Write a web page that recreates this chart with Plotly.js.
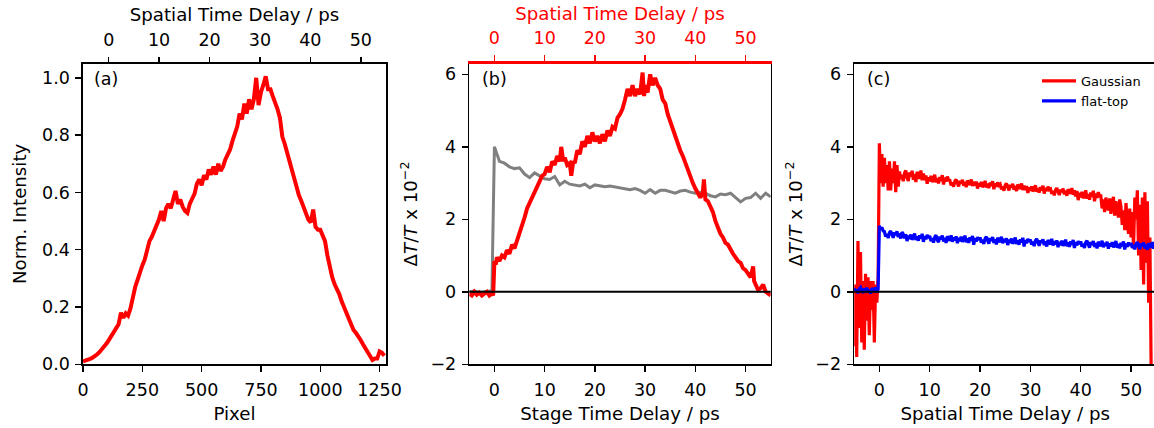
<!DOCTYPE html>
<html>
<head>
<meta charset="utf-8">
<script src="https://cdn.plot.ly/plotly-3.0.1.min.js"></script>
<style>
html,body{margin:0;padding:0;overflow:hidden;background:#fff;}
#chart{width:1160px;height:428px;}
</style>
</head>
<body>
<div id="chart"></div>
<script>
// ---------- Panel (a): beam profile ----------
const pixelA = [0,10,20,30,40,50,60,70,80,90,100,110,120,130,140,150,160,170,180,190,200,210,220,230,240,250,260,270,280,290,300,310,320,330,340,350,360,370,380,390,400,410,420,430,440,450,460,470,480,490,500,510,520,530,540,550,560,570,580,590,600,610,620,630,640,650,660,670,680,690,700,710,720,730,740,750,760,770,780,790,800,810,820,830,840,850,860,870,880,890,900,910,920,930,940,950,960,970,980,990,1000,1010,1020,1030,1040,1050,1060,1070,1080,1090,1100,1110,1120,1130,1140,1150,1160,1170,1180,1190,1200,1210,1220,1230,1240,1250,1260,1270];
const intensityA = [0.010,0.012,0.015,0.019,0.023,0.028,0.035,0.043,0.052,0.062,0.073,0.086,0.098,0.110,0.125,0.140,0.180,0.162,0.178,0.170,0.195,0.235,0.270,0.295,0.325,0.345,0.365,0.400,0.430,0.445,0.465,0.480,0.505,0.535,0.500,0.545,0.560,0.545,0.575,0.605,0.560,0.575,0.550,0.535,0.528,0.560,0.578,0.595,0.630,0.645,0.625,0.660,0.645,0.680,0.662,0.690,0.662,0.700,0.675,0.690,0.715,0.735,0.750,0.780,0.805,0.830,0.875,0.855,0.910,0.875,0.925,0.890,0.925,1.000,0.905,0.950,0.975,1.005,0.960,0.960,0.935,0.915,0.890,0.860,0.795,0.770,0.745,0.710,0.680,0.645,0.610,0.590,0.570,0.545,0.530,0.505,0.495,0.540,0.480,0.470,0.470,0.445,0.430,0.380,0.340,0.305,0.280,0.265,0.245,0.220,0.200,0.185,0.165,0.140,0.120,0.110,0.100,0.085,0.070,0.055,0.040,0.025,0.015,0.020,0.020,0.045,0.040,0.030];
const pixelTicks = [0,250,500,750,1000,1250];
const spatialTicks = [0,10,20,30,40,50];

// ---------- Panel (b): stage-delay scans ----------
const stageTimeRed = [-5,-4.5,-4,-3.5,-3,-2.5,-2,-1.5,-1,-0.5,-0.25,0,0.25,0.5,1,1.5,2,2.5,3,3.5,4,4.5,5,5.5,6,6.5,7,7.5,8,8.5,9,9.5,10,10.5,11,11.5,12,12.5,13,13.3,13.7,14,14.5,15,15.3,15.7,16,16.5,17,17.5,18,18.5,19,19.5,20,20.5,21,21.5,22,22.5,23,23.5,24,24.5,25,25.5,26,26.5,27,27.5,28,28.5,29,29.5,29.8,30,30.5,31,31.5,32,32.5,33,33.5,34,34.5,35,35.5,36,36.5,37,37.5,38,38.5,39,39.5,40,40.5,41,41.5,41.7,42,42.5,43,43.5,44,44.5,45,45.5,46,46.5,47,47.5,48,48.5,49,49.5,50,50.5,51,51.5,51.7,52,52.5,53,53.5,54,54.5,55];
const dTRed = [-0.05,-0.1,0.0,-0.08,-0.02,-0.1,-0.05,0.0,-0.1,-0.04,-0.1,0.85,0.75,0.95,0.85,1.0,0.95,1.15,1.05,1.3,1.2,1.4,1.6,1.85,2.05,2.3,2.45,2.65,2.75,2.95,3.05,3.2,3.25,3.45,3.3,3.6,3.5,3.75,3.6,4.0,3.6,3.7,3.5,3.55,3.2,3.6,3.55,3.9,3.8,4.15,4.0,4.3,4.1,4.4,4.15,4.3,4.1,4.35,4.15,4.45,4.3,4.55,4.5,4.8,4.9,5.05,5.3,5.6,5.4,5.7,5.4,5.6,5.45,6.05,5.4,5.7,5.5,6.0,5.7,5.9,5.7,5.6,5.3,5.2,4.9,4.7,4.45,4.3,4.1,3.9,3.75,3.55,3.35,3.2,3.0,2.85,2.7,2.6,2.75,3.1,2.55,2.5,2.35,2.2,1.95,1.75,1.6,1.5,1.35,1.3,1.15,1.05,0.95,0.85,0.8,0.65,0.6,0.5,0.4,0.7,0.3,0.2,0.05,0.1,0.2,0.0,-0.05,-0.1];
const stageTimeGray = [-5,-4,-3,-2,-1,-0.5,0,1,2,3,4,5,6,7,8,9,10,11,12,13,14,15,16,17,18,19,20,21,22,23,24,25,26,27,28,29,30,31,32,33,34,35,36,37,38,39,40,41,42,43,44,45,46,47,48,49,50,51,52,53,54,55];
const dTGray = [0.0,0.02,-0.02,0.0,0.02,0.0,4.0,3.6,3.55,3.45,3.4,3.42,3.25,3.15,3.28,3.2,3.12,3.1,3.18,2.95,3.05,2.97,2.95,2.92,2.97,2.87,2.95,2.93,2.9,2.92,2.9,2.88,2.86,2.82,2.85,2.8,2.72,2.82,2.72,2.8,2.8,2.75,2.72,2.78,2.8,2.75,2.72,2.75,2.72,2.65,2.62,2.7,2.68,2.72,2.6,2.48,2.58,2.6,2.72,2.58,2.72,2.62];
const dTTicks = [-2,0,2,4,6];

// ---------- Panel (c): spatial-delay traces (0.25 ps sampling, from -5 ps) ----------
const tStartC = -5, tStepC = 0.25;
const dTGauss = [
 -1.5,0.2,-1.8,1.4,-1.0,1.1,-1.4,0.3,-1.6,0.5,-0.8,0.4,-1.2,0.3,-0.5,0.3,-1.4,0.2,-0.3,0.4,
 4.1,3.0,3.8,2.9,3.7,3.0,3.5,2.8,3.6,2.8,3.4,3.0,3.6,2.75,3.5,2.9,
 3.32,3.11,3.23,3.05,3.28,3.35,3.15,3.06,3.29,3.18,3.34,3.09,3.25,3.03,3.31,3.22,3.12,3.35,3.08,3.26,
 3.08,3.21,2.98,3.16,3.05,3.20,3.03,3.10,3.23,3.02,3.14,2.99,3.17,3.06,3.22,2.96,3.15,3.04,3.18,3.09,
 3.08,2.94,3.02,2.90,3.05,3.10,2.97,2.91,3.06,2.99,3.09,2.93,3.03,2.89,3.07,3.01,2.95,3.10,2.92,3.04,
 2.93,3.04,2.85,3.00,2.91,3.03,2.89,2.95,3.06,2.88,2.98,2.86,3.01,2.92,3.05,2.83,2.99,2.90,3.02,2.94,
 2.97,2.83,2.91,2.79,2.94,2.99,2.86,2.80,2.95,2.88,2.98,2.82,2.92,2.78,2.96,2.90,2.84,2.99,2.81,2.93,
 2.81,2.92,2.73,2.88,2.79,2.91,2.77,2.83,2.94,2.76,2.86,2.74,2.89,2.80,2.93,2.71,2.87,2.78,2.90,2.82,
 2.84,2.70,2.78,2.66,2.81,2.86,2.73,2.67,2.82,2.75,2.85,2.69,2.79,2.65,2.83,2.77,2.71,2.86,2.68,2.80,
 2.63,2.78,2.53,2.73,2.61,2.76,2.58,2.66,2.80,2.57,2.70,2.54,2.74,2.62,2.79,2.50,2.71,2.59,2.75,2.65,
 2.65,2.30,2.55,2.20,2.60,2.35,2.25,2.58,2.15,2.45,2.62,2.10,2.50,2.28,2.05,2.55,
 2.35,1.85,2.25,1.70,2.45,1.90,1.60,2.30,1.50,2.20,1.20,2.60,2.00,2.80,1.00,2.40,0.60,2.60,0.20,2.75,0.80,2.50,-0.30,1.50,-2.20];
const dTFlat = [
 0.10,0.00,0.06,-0.04,0.08,0.12,0.02,-0.03,0.09,0.04,0.11,-0.01,0.06,-0.05,0.10,0.05,0.01,0.12,-0.02,0.07,
 1.82,1.72,1.78,1.68,
 1.66,1.52,1.60,1.48,1.63,1.68,1.55,1.49,1.64,1.57,1.67,1.51,1.61,1.47,1.65,1.59,
 1.48,1.59,1.40,1.55,1.46,1.58,1.44,1.50,1.61,1.43,1.53,1.41,1.56,1.47,1.60,1.38,1.54,1.45,1.57,1.49,
 1.54,1.40,1.48,1.36,1.51,1.56,1.43,1.37,1.52,1.45,1.55,1.39,1.49,1.35,1.53,1.47,1.41,1.56,1.38,1.50,
 1.42,1.53,1.34,1.49,1.40,1.52,1.38,1.44,1.55,1.37,1.47,1.35,1.50,1.41,1.54,1.30,1.48,1.39,1.51,1.43,
 1.50,1.36,1.44,1.32,1.47,1.52,1.39,1.33,1.48,1.41,1.51,1.35,1.45,1.31,1.49,1.43,1.37,1.52,1.34,1.46,
 1.37,1.48,1.29,1.44,1.35,1.47,1.33,1.39,1.50,1.32,1.42,1.30,1.45,1.36,1.49,1.25,1.43,1.34,1.46,1.38,
 1.44,1.30,1.38,1.26,1.41,1.46,1.33,1.27,1.42,1.35,1.45,1.29,1.39,1.25,1.43,1.37,1.31,1.46,1.28,1.40,
 1.31,1.42,1.23,1.38,1.29,1.41,1.27,1.33,1.44,1.26,1.36,1.24,1.39,1.30,1.43,1.21,1.37,1.28,1.40,1.32,
 1.39,1.25,1.33,1.21,1.36,1.41,1.28,1.22,1.37,1.30,1.40,1.24,1.34,1.20,1.38,1.32,1.26,1.41,1.23,1.35,
 1.27,1.38,1.19,1.34,1.25,1.37,1.23,1.29,1.40,1.22,1.32,1.20,1.35,1.26,1.39,1.17,1.33,1.24,1.36,1.28,
 1.35,1.21,1.29,1.17,1.32,1.37,1.24,1.18,1.33,1.26,1.36,1.20,1.30,1.16,1.34,1.28,1.22,1.37,1.19,1.31,1.27];
const spatialTimeGauss = dTGauss.map((_, i) => tStartC + i * tStepC);
const spatialTimeFlat = dTFlat.map((_, i) => tStartC + i * tStepC);
const seriesNames = ['Gaussian','flat-top'];

// ---------- styling ----------
const FONT = 'DejaVu Sans, sans-serif';
const TICKF = {family: FONT, size: 17.5, color: '#000'};
const TITLEF = {family: FONT, size: 18.2, color: '#000'};
const W = 1160, H = 428;
const yDom = [(H-364.3)/H, (H-63.5)/H];
const dA = [83/W, 386/W], dB = [469.3/W, 770.7/W], dC = [854.2/W, 1156.2/W];

function baseAxis(extra){
  return Object.assign({
    showline: true, linecolor: '#000', linewidth: 1.6,
    ticks: 'outside', ticklen: 6, tickwidth: 1.5, tickcolor: '#000',
    showgrid: false, zeroline: false, tickfont: TICKF, fixedrange: true,
    automargin: false
  }, extra);
}

const traces = [
  {x: pixelA, y: intensityA, xaxis: 'x', yaxis: 'y', type: 'scatter', mode: 'lines',
   line: {color: '#ff0000', width: 4}, showlegend: false},
  {x: spatialTicks, y: spatialTicks.map(() => null), xaxis: 'x4', yaxis: 'y', type: 'scatter', mode: 'lines', showlegend: false},
  {x: stageTimeGray, y: dTGray, xaxis: 'x2', yaxis: 'y2', type: 'scatter', mode: 'lines',
   line: {color: '#808080', width: 3}, showlegend: false},
  {x: stageTimeRed, y: dTRed, xaxis: 'x2', yaxis: 'y2', type: 'scatter', mode: 'lines',
   line: {color: '#ff0000', width: 4}, showlegend: false},
  {x: spatialTicks, y: spatialTicks.map(() => null), xaxis: 'x5', yaxis: 'y2', type: 'scatter', mode: 'lines', showlegend: false},
  {x: spatialTimeGauss, y: dTGauss, xaxis: 'x3', yaxis: 'y3', type: 'scatter', mode: 'lines',
   name: seriesNames[0], line: {color: '#ff0000', width: 3.2}},
  {x: spatialTimeFlat, y: dTFlat, xaxis: 'x3', yaxis: 'y3', type: 'scatter', mode: 'lines',
   name: seriesNames[1], line: {color: '#0000ff', width: 3.2}}
];

const layout = {
  width: W, height: H,
  margin: {l: 0, r: 0, t: 0, b: 0},
  paper_bgcolor: '#fff', plot_bgcolor: '#fff',
  hovermode: false,
  font: {family: FONT, color: '#000'},
  showlegend: true,
  legend: {x: 1037/W, y: (H-66)/H, xanchor: 'left', yanchor: 'top',
           bgcolor: 'rgba(0,0,0,0)', borderwidth: 0,
           font: {family: FONT, size: 13, color: '#000'}, itemwidth: 34, tracegroupgap: 0},
  xaxis: baseAxis({domain: dA, anchor: 'y', range: [0, 1277], tickvals: pixelTicks, mirror: true, ticklabelstandoff: 3,
    title: {text: 'Pixel', font: TITLEF, standoff: 8}}),
  xaxis4: baseAxis({overlaying: 'x', anchor: 'y', side: 'top', range: [-5.1, 55], tickvals: spatialTicks, showline: false, ticklabelstandoff: 4,
    title: {text: 'Spatial Time Delay / ps', font: TITLEF, standoff: 3}}),
  yaxis: baseAxis({domain: yDom, anchor: 'x', range: [0, 1.05], tickvals: [0,0.2,0.4,0.6,0.8,1.0],
    ticktext: ['0.0','0.2','0.4','0.6','0.8','1.0'], mirror: true, ticklabelstandoff: 2,
    title: {text: 'Norm. Intensity', font: TITLEF, standoff: 10}}),
  xaxis2: baseAxis({domain: dB, anchor: 'y2', range: [-5, 55], tickvals: spatialTicks, ticklabelstandoff: 3,
    title: {text: 'Stage Time Delay / ps', font: TITLEF, standoff: 8}}),
  xaxis5: baseAxis({overlaying: 'x2', anchor: 'y2', side: 'top', range: [-5, 55], tickvals: spatialTicks, ticklabelstandoff: 4,
    linecolor: '#ff0000', linewidth: 2.6, tickcolor: '#ff0000', tickfont: Object.assign({}, TICKF, {color: '#ff0000'}),
    title: {text: 'Spatial Time Delay / ps', font: Object.assign({}, TITLEF, {color: '#ff0000'}), standoff: 3}}),
  yaxis2: baseAxis({domain: yDom, anchor: 'x2', range: [-2, 6.3], tickvals: dTTicks, mirror: true, ticklabelstandoff: 2,
    title: {text: 'Δ<i>T</i>/<i>T</i> x 10<sup>−2</sup>', font: TITLEF, standoff: 8}}),
  xaxis3: baseAxis({domain: dC, anchor: 'y3', range: [-5, 55], tickvals: spatialTicks, mirror: true, ticklabelstandoff: 3,
    title: {text: 'Spatial Time Delay / ps', font: TITLEF, standoff: 8}}),
  yaxis3: baseAxis({domain: yDom, anchor: 'x3', range: [-2, 6.3], tickvals: dTTicks, mirror: true, ticklabelstandoff: 2,
    title: {text: 'Δ<i>T</i>/<i>T</i> x 10<sup>−2</sup>', font: TITLEF, standoff: 8}}),
  shapes: [
    {type: 'line', xref: 'x2 domain', yref: 'y2', x0: 0, x1: 1, y0: 0, y1: 0, line: {color: '#000', width: 2}, layer: 'above'},
    {type: 'line', xref: 'x3 domain', yref: 'y3', x0: 0, x1: 1, y0: 0, y1: 0, line: {color: '#000', width: 2}, layer: 'above'}
  ],
  annotations: [
    {text: '(a)', xref: 'x domain', yref: 'y domain', x: 0.03, y: 0.948, xanchor: 'left', yanchor: 'middle', showarrow: false, font: TICKF},
    {text: '(b)', xref: 'x2 domain', yref: 'y2 domain', x: 0.035, y: 0.948, xanchor: 'left', yanchor: 'middle', showarrow: false, font: TICKF},
    {text: '(c)', xref: 'x3 domain', yref: 'y3 domain', x: 0.036, y: 0.948, xanchor: 'left', yanchor: 'middle', showarrow: false, font: TICKF}
  ]
};

Plotly.newPlot('chart', traces, layout, {displayModeBar: false, staticPlot: true});
</script>
</body>
</html>
